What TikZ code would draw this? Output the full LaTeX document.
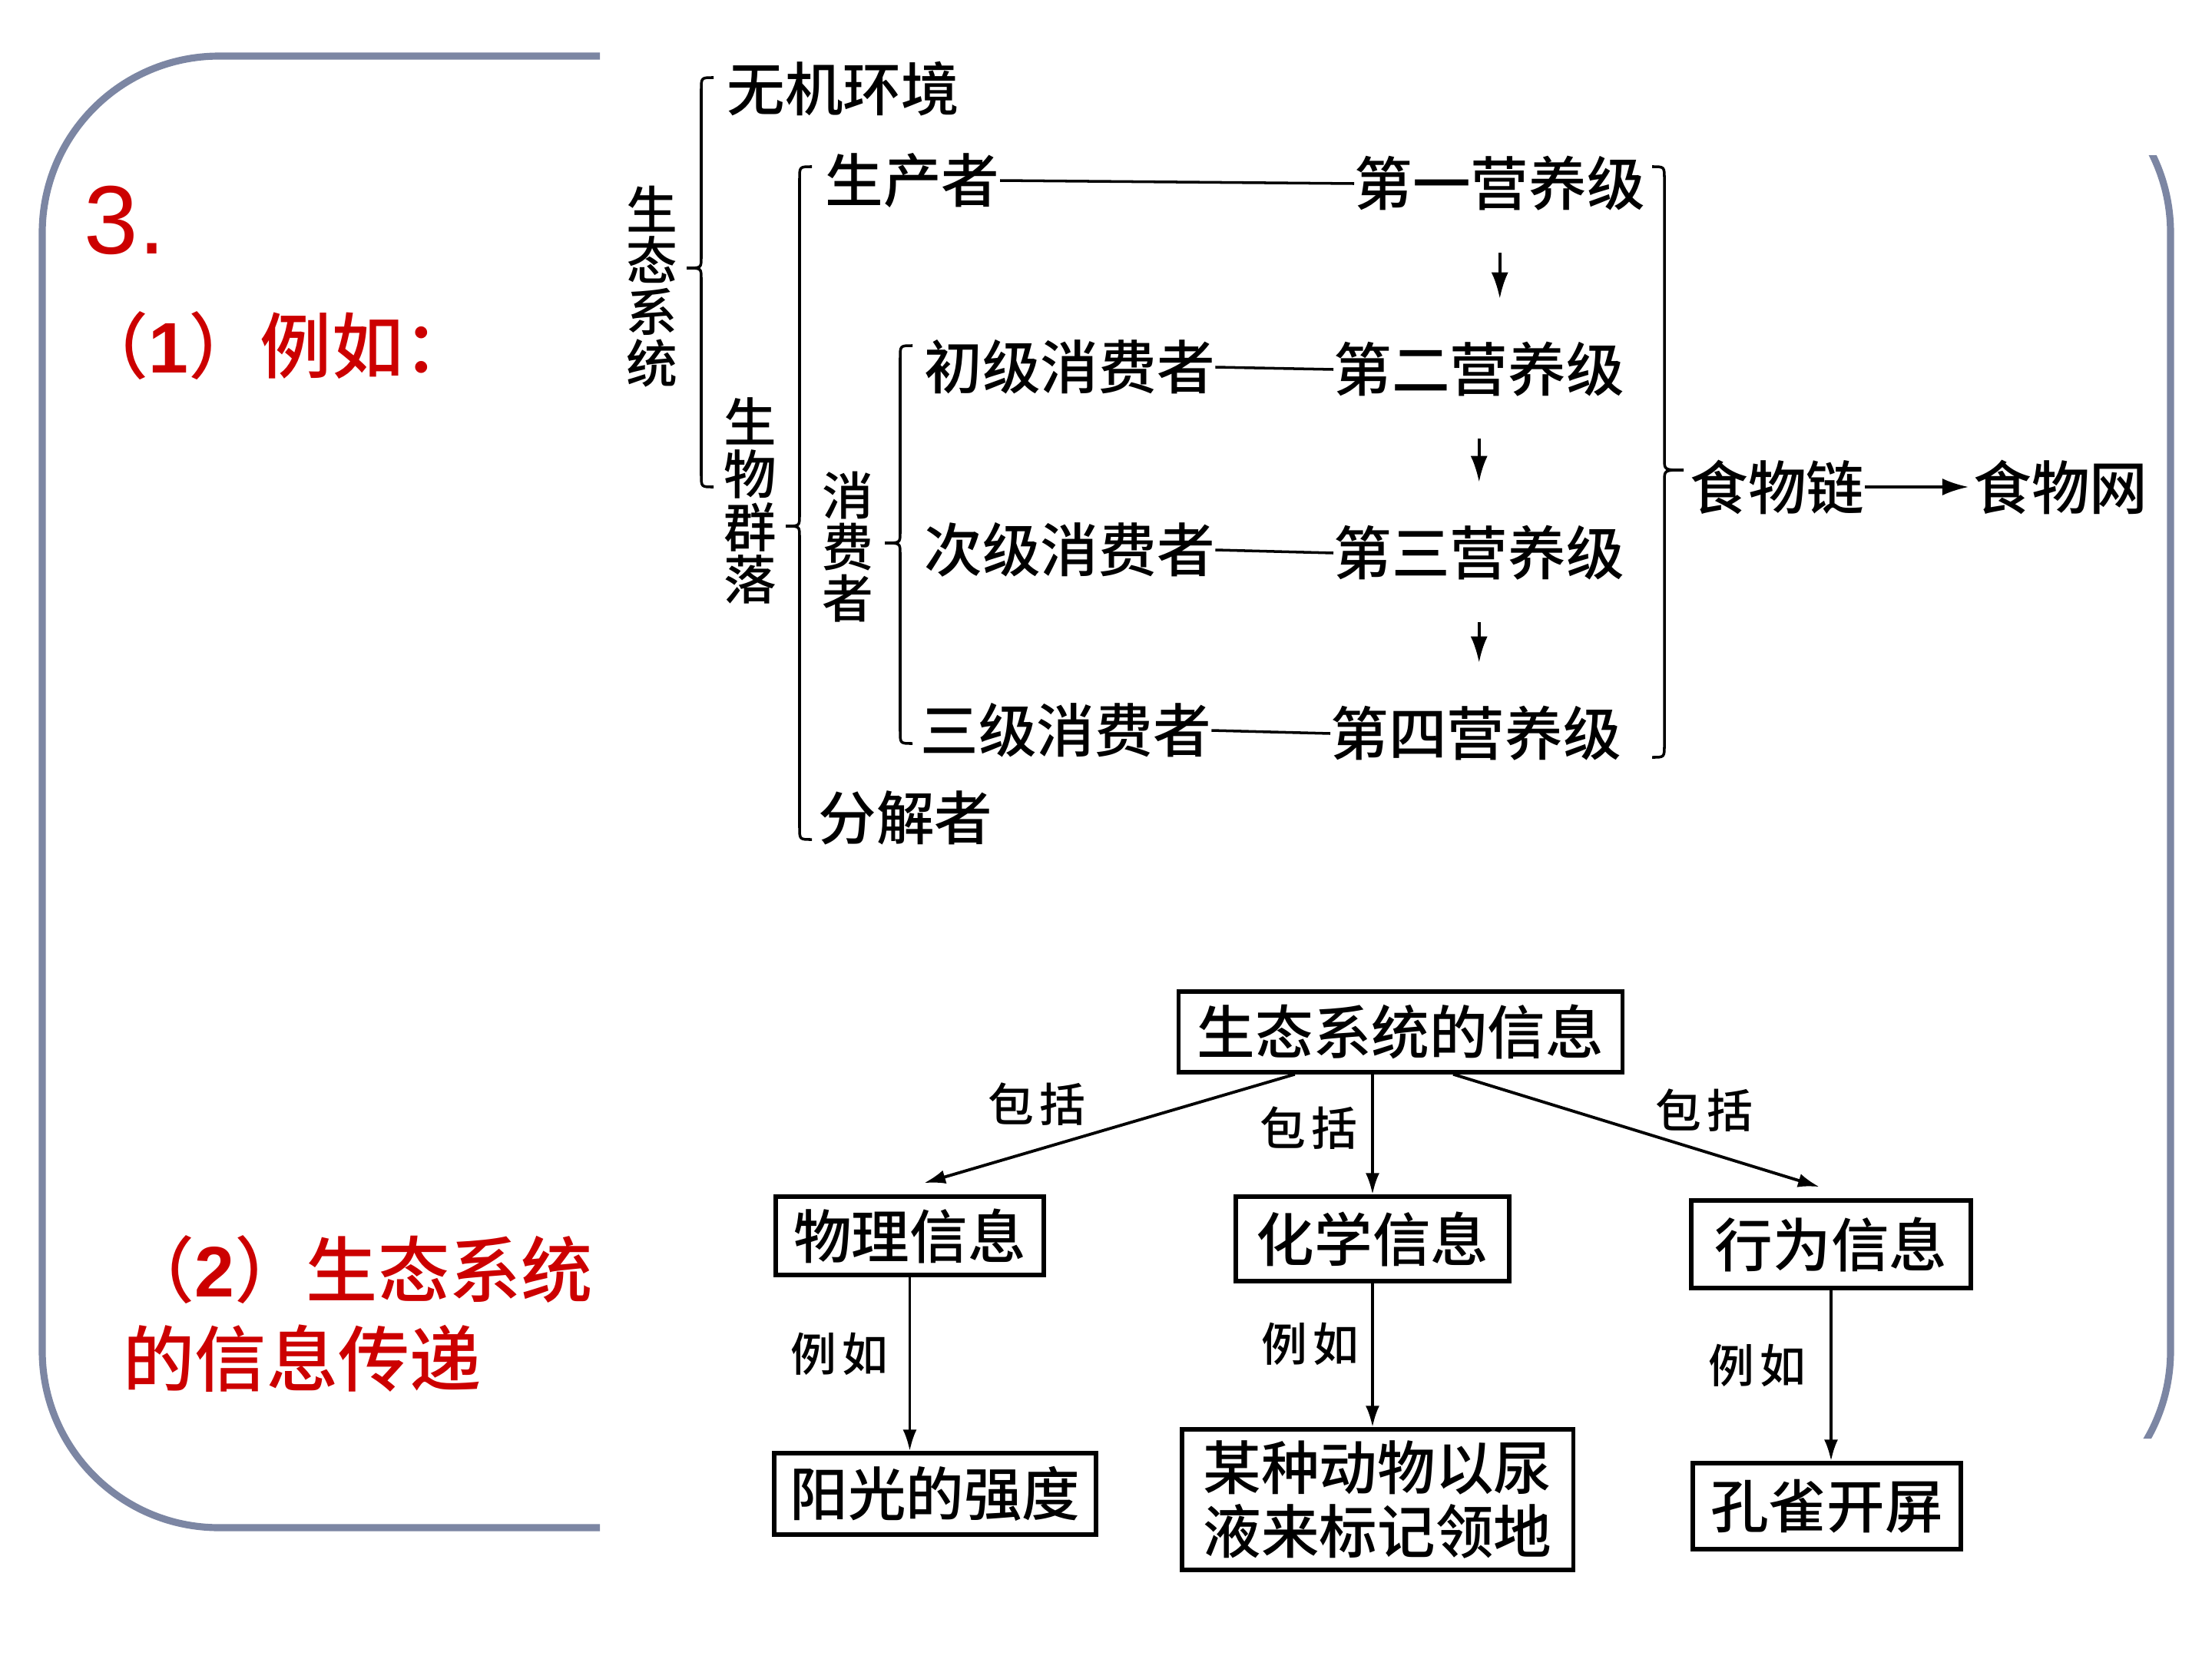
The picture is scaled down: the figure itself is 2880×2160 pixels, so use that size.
\documentclass[tikz,border=0pt]{standalone}
\usepackage{fontspec}
\setmainfont{Liberation Sans}
\newfontfamily\cjk{Noto Sans CJK SC}[UprightFont={* Medium},BoldFont={* Bold}]
\usetikzlibrary{arrows.meta,calc}
\definecolor{framegray}{RGB}{124,134,163}
\definecolor{titlered}{RGB}{204,0,0}
\newcommand\setfs[1]{\fontsize{#1}{#1}\selectfont}
% curly brace opening to the right: spine x, top y, tip y, bottom y, tip x
\newcommand\bracel[5]{%
  \draw[brc] (#1+16,#2) .. controls (#1,#2) .. (#1,#2+16) -- (#1,#3-14)
    .. controls (#1,#3) .. (#5,#3) .. controls (#1,#3) .. (#1,#3+14)
    -- (#1,#4-16) .. controls (#1,#4) .. (#1+16,#4);}
% curly brace opening to the left
\newcommand\bracer[5]{%
  \draw[brc] (#1-16,#2) .. controls (#1,#2) .. (#1,#2+16) -- (#1,#3-14)
    .. controls (#1,#3) .. (#5,#3) .. controls (#1,#3) .. (#1,#3+14)
    -- (#1,#4-16) .. controls (#1,#4) .. (#1-16,#4);}
\begin{document}
\begin{tikzpicture}[x=0.01cm,y=-0.01cm,
  frame/.style={draw=framegray,line width=2.6pt},
  htxt/.style={font=\cjk\setfs{21.5pt},inner sep=0pt,anchor=west},
  vtxt/.style={font=\cjk\setfs{19pt},inner sep=0pt,align=center},
  brc/.style={line width=1pt},
  link/.style={line width=1pt},
  stepdown/.style={line width=1.1pt,-{Latex[length=0.34cm,width=0.22cm]},shorten <=0.54cm,shorten >=0.56cm},
  infobox/.style={draw,line width=1.5pt,font=\cjk\setfs{21.5pt},inner sep=0pt,align=center},
  infoarrow/.style={line width=1.1pt,-{Latex[length=0.28cm,width=0.18cm]}},
  lbl/.style={font=\cjk\setfs{17pt},inner sep=0pt},
  redtext/.style={text=titlered,inner sep=0pt,anchor=west}
]
\useasboundingbox (0,0) rectangle (2880,2160);

% slide frame, partly hidden behind the diagrams
\begin{scope}
  \clip (0,0) rectangle (781,2160) (2790,202) rectangle (2880,1873);
  \draw[frame,rounded corners=2.3cm] (55,73) rectangle (2826,1989);
\end{scope}

% headings
\node[redtext,font=\setfs{36pt}] (num) at (109,287) {3.};
\node[redtext,font=\cjk\setfs{26.5pt}] (ex1) at (100,450) {（{\rmfamily\bfseries 1}）例如：};
\node[redtext,align=left,font=\cjk\fontsize{26.5pt}{33pt}\selectfont] (ex2) at (160,1711)
  {（{\rmfamily\bfseries 2}）生态系统\\的信息传递};

% ecosystem structure and trophic levels
\node[htxt] (abio) at (946,116) {无机环境};
\node[vtxt] (eco) at (849,373) {生\\态\\系\\统};
\node[vtxt,font=\cjk\setfs{19.5pt}] (comm) at (977,652) {生\\物\\群\\落};
\node[vtxt] (cons) at (1104,712) {消\\费\\者};
\node[htxt] (prod) at (1074,235) {生产者};
\node[htxt] (t1) at (1763,239) {第一营养级};
\node[htxt] (c1) at (1203,478) {初级消费者};
\node[htxt] (t2) at (1736,481) {第二营养级};
\node[htxt] (c2) at (1203,716) {次级消费者};
\node[htxt] (t3) at (1736,720) {第三营养级};
\node[htxt] (c3) at (1198,951) {三级消费者};
\node[htxt] (t4) at (1732,955) {第四营养级};
\node[htxt] (dec) at (1065,1065) {分解者};
\node[htxt] (chain) at (2200,634) {食物链};
\node[htxt] (web) at (2569,634) {食物网};

\bracel{913}{101}{349}{634}{894}
\bracel{1041}{217}{685}{1093}{1023}
\bracel{1172}{450}{707}{968}{1152}
\bracer{2167}{217}{612}{986}{2192}

\draw[link] (prod.east) -- (t1.west);
\draw[link] (c1.east) -- (t2.west);
\draw[link] (c2.east) -- (t3.west);
\draw[link] (c3.east) -- (t4.west);
\draw[stepdown] (t1.south) -- (t1.south |- t2.north);
\draw[stepdown] (t2.south) -- (t2.south |- t3.north);
\draw[stepdown] (t3.south) -- (t3.south |- t4.north);
\draw[link,-{Latex[length=0.34cm,width=0.22cm]}] (chain.east) -- ([xshift=-0.06cm]web.west);

% information in the ecosystem
\node[infobox,minimum width=5.77cm,minimum height=1.05cm] (info) at (1823.5,1343.5) {生态系统的信息};
\node[infobox,minimum width=3.49cm,minimum height=1.02cm] (phy) at (1184.5,1609) {物理信息};
\node[infobox,minimum width=3.56cm,minimum height=1.10cm] (chem) at (1787,1613) {化学信息};
\node[infobox,minimum width=3.64cm,minimum height=1.14cm] (beh) at (2384,1620) {行为信息};
\node[infobox,minimum width=4.19cm,minimum height=1.06cm] (sun) at (1217.5,1945) {阳光的强度};
\node[infobox,minimum width=5.09cm,minimum height=1.83cm,font=\cjk\fontsize{21.5pt}{23.5pt}\selectfont] (urine) at (1793.5,1952.5) {某种动物以尿\\液来标记领地};
\node[infobox,minimum width=3.49cm,minimum height=1.12cm] (pea) at (2378.5,1961) {孔雀开屏};

\draw[infoarrow] ([xshift=-1.375cm]info.south) -- ([xshift=0.185cm,yshift=0.15cm]phy.north);
\draw[infoarrow] (chem.north |- info.south) -- (chem.north);
\draw[infoarrow] ([xshift=0.685cm]info.south) -- ([xshift=-0.15cm,yshift=0.15cm]beh.north);
\draw[infoarrow] (phy.south) -- (phy.south |- sun.north);
\draw[infoarrow] (chem.south) -- (chem.south |- urine.north);
\draw[infoarrow] (beh.south) -- (beh.south |- pea.north);

\node[lbl] (inc1) at (1350,1438) {包\hspace{0.08cm}括};
\node[lbl] (inc2) at (1704,1469) {包\hspace{0.08cm}括};
\node[lbl] (inc3) at (2219,1446) {包\hspace{0.08cm}括};
\node[lbl] (eg1) at (1093,1763) {例\hspace{0.08cm}如};
\node[lbl] (eg2) at (1706,1750) {例\hspace{0.08cm}如};
\node[lbl] (eg3) at (2288,1778) {例\hspace{0.08cm}如};
\end{tikzpicture}
\end{document}
